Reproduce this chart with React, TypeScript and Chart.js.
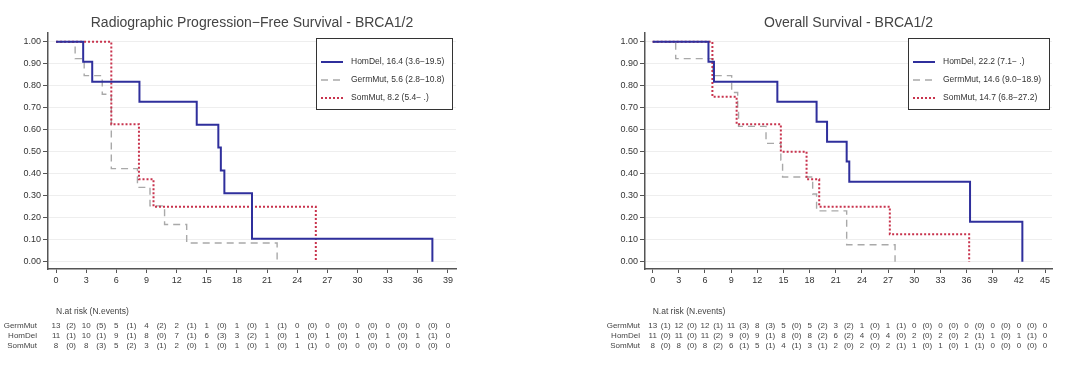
import React, { useEffect, useRef } from "react";
import { Chart, registerables } from "chart.js";

Chart.register(...registerables);

const FONT = '"Liberation Sans", Arial, Helvetica, sans-serif';

// ---------- Data: Radiographic PFS ----------
const pfsTitle = "Radiographic Progression\u2212Free Survival - BRCA1/2";
const pfsXTicks = [0, 3, 6, 9, 12, 15, 18, 21, 24, 27, 30, 33, 36, 39];
const pfsHomDelTimes = [0, 2.7, 3.6, 8.3, 14.0, 16.15, 16.4, 16.75, 19.5, 37.45];
const pfsHomDelSurv = [1, 0.909, 0.818, 0.727, 0.623, 0.519, 0.415, 0.311, 0.104, 0];
const pfsGermMutTimes = [0, 1.9, 2.8, 4.6, 5.5, 8.1, 9.35, 10.8, 13.0, 22.0];
const pfsGermMutSurv = [1, 0.923, 0.846, 0.761, 0.423, 0.338, 0.254, 0.169, 0.085, 0];
const pfsSomMutTimes = [0, 5.5, 8.25, 9.7, 25.85];
const pfsSomMutSurv = [1, 0.625, 0.375, 0.25, 0];
const pfsLegend = ["HomDel, 16.4 (3.6\u221219.5)", "GermMut, 5.6 (2.8\u221210.8)", "SomMut, 8.2 (5.4\u2212 .)"];
const pfsRiskGerm = [13, 10, 5, 4, 2, 1, 1, 1, 0, 0, 0, 0, 0, 0];
const pfsEventsGerm = [2, 5, 1, 2, 1, 0, 0, 1, 0, 0, 0, 0, 0];
const pfsRiskHom = [11, 10, 9, 8, 7, 6, 3, 1, 1, 1, 1, 1, 1, 0];
const pfsEventsHom = [1, 1, 1, 0, 1, 3, 2, 0, 0, 0, 0, 0, 1];
const pfsRiskSom = [8, 8, 5, 3, 2, 1, 1, 1, 1, 0, 0, 0, 0, 0];
const pfsEventsSom = [0, 3, 2, 1, 0, 0, 0, 0, 1, 0, 0, 0, 0];

// ---------- Data: Overall Survival ----------
const osTitle = "Overall Survival - BRCA1/2";
const osXTicks = [0, 3, 6, 9, 12, 15, 18, 21, 24, 27, 30, 33, 36, 39, 42, 45];
const osHomDelTimes = [0, 6.4, 7.03, 14.3, 18.8, 20.0, 22.25, 22.55, 36.4, 42.4];
const osHomDelSurv = [1, 0.909, 0.818, 0.727, 0.636, 0.545, 0.455, 0.364, 0.182, 0];
const osGermMutTimes = [0, 2.64, 6.9, 9.06, 9.75, 9.85, 13.0, 14.7, 14.9, 18.35, 18.8, 22.25, 27.8];
const osGermMutSurv = [1, 0.923, 0.846, 0.769, 0.692, 0.615, 0.538, 0.462, 0.385, 0.308, 0.231, 0.077, 0];
const osSomMutTimes = [0, 6.85, 9.63, 14.7, 17.65, 19.1, 27.2, 36.3];
const osSomMutSurv = [1, 0.75, 0.625, 0.5, 0.375, 0.25, 0.125, 0];
const osLegend = ["HomDel, 22.2 (7.1\u2212 .)", "GermMut, 14.6 (9.0\u221218.9)", "SomMut, 14.7 (6.8\u221227.2)"];
const osRiskGerm = [13, 12, 12, 11, 8, 5, 5, 3, 1, 1, 0, 0, 0, 0, 0, 0];
const osEventsGerm = [1, 0, 1, 3, 3, 0, 2, 2, 0, 1, 0, 0, 0, 0, 0];
const osRiskHom = [11, 11, 11, 9, 9, 8, 8, 6, 4, 4, 2, 2, 2, 1, 1, 0];
const osEventsHom = [0, 0, 2, 0, 1, 0, 2, 2, 0, 0, 0, 0, 1, 0, 1];
const osRiskSom = [8, 8, 8, 6, 5, 4, 3, 2, 2, 2, 1, 1, 1, 0, 0, 0];
const osEventsSom = [0, 0, 2, 1, 1, 1, 1, 0, 0, 1, 0, 0, 1, 0, 0];

const yTicks = [0, 0.1, 0.2, 0.3, 0.4, 0.5, 0.6, 0.7, 0.8, 0.9, 1.0];
const riskLabels = ["GermMut", "HomDel", "SomMut"];
const riskHeader = "N.at risk (N.events)";

// ---------- Styles ----------
const BLUE = "#2f2f9c";
const GRAY = "#a9a9a9";
const RED = "#c8334d";
const styleHom = { color: BLUE, width: 2, dash: [] as number[] };
const styleGerm = { color: GRAY, width: 1.4, dash: [7, 5] };
const styleSom = { color: RED, width: 2, dash: [2, 2] };

function series(times: number[], surv: number[]) {
  return times.map((t, i) => ({ x: t, y: surv[i] }));
}

type Cfg = {
  title: string;
  xTicks: number[];
  xMin: number;
  xMax: number;
  padRight: number;
  yWidth: number;
  legendTexts: string[];
  legendBox: { x: number; w: number };
  labelRight: number;
  risk: number[][];
  events: number[][];
  hom: { x: number; y: number }[];
  germ: { x: number; y: number }[];
  som: { x: number; y: number }[];
};

function overlay(cfg: Cfg) {
  return {
    id: "overlay",
    afterDraw(chart: any) {
      const ctx = chart.ctx as CanvasRenderingContext2D;
      const area = chart.chartArea;
      const xs = chart.scales.x;
      ctx.save();
      // Title
      ctx.font = `14px ${FONT}`;
      ctx.fillStyle = "#444";
      ctx.textAlign = "center";
      ctx.textBaseline = "middle";
      ctx.fillText(cfg.title, (area.left + area.right) / 2, 23);

      // Legend
      const bx = cfg.legendBox.x;
      const by = 38;
      const bw = cfg.legendBox.w;
      const bh = 71;
      ctx.fillStyle = "#fff";
      ctx.fillRect(bx, by, bw, bh);
      ctx.strokeStyle = "#333";
      ctx.lineWidth = 1;
      ctx.setLineDash([]);
      ctx.strokeRect(bx + 0.5, by + 0.5, bw, bh);
      const styles = [styleHom, styleGerm, styleSom];
      ctx.font = `8.5px ${FONT}`;
      ctx.textAlign = "left";
      ctx.textBaseline = "middle";
      cfg.legendTexts.forEach((txt, i) => {
        const yy = 62 + i * 18;
        const st = styles[i];
        ctx.beginPath();
        ctx.strokeStyle = st.color;
        ctx.lineWidth = st.width;
        ctx.setLineDash(st.dash);
        ctx.moveTo(bx + 5, yy);
        ctx.lineTo(bx + 27, yy);
        ctx.stroke();
        ctx.setLineDash([]);
        ctx.fillStyle = "#333";
        ctx.fillText(txt, bx + 35, yy);
      });

      // Risk table
      ctx.fillStyle = "#444";
      ctx.font = `8.5px ${FONT}`;
      ctx.textAlign = "left";
      ctx.fillText(riskHeader, xs.getPixelForValue(cfg.xTicks[0]), 312);
      ctx.font = `8px ${FONT}`;
      riskLabels.forEach((lab, r) => {
        const yy = 326 + r * 10;
        ctx.fillStyle = "#444";
        ctx.textAlign = "right";
        ctx.fillText(lab, cfg.labelRight, yy);
        ctx.textAlign = "center";
        cfg.risk[r].forEach((n, j) => {
          ctx.fillText(String(n), xs.getPixelForValue(cfg.xTicks[j]), yy);
        });
        cfg.events[r].forEach((e, j) => {
          const mid = (cfg.xTicks[j] + cfg.xTicks[j + 1]) / 2;
          ctx.fillText(`(${e})`, xs.getPixelForValue(mid), yy);
        });
      });
      ctx.restore();
    },
  };
}

function buildConfig(cfg: Cfg): any {
  const ds = (data: any, st: any) => ({
    data,
    borderColor: st.color,
    borderWidth: st.width,
    borderDash: st.dash,
    stepped: "before",
    pointRadius: 0,
    fill: false,
    tension: 0,
  });
  return {
    type: "line",
    data: {
      datasets: [ds(cfg.hom, styleHom), ds(cfg.som, styleSom), ds(cfg.germ, styleGerm)],
    },
    options: {
      animation: false,
      responsive: false,
      devicePixelRatio: 1,
      layout: { padding: { left: 0, top: 33, right: cfg.padRight, bottom: 0 } },
      plugins: { legend: { display: false }, tooltip: { enabled: false }, title: { display: false } },
      scales: {
        x: {
          type: "linear",
          min: cfg.xMin,
          max: cfg.xMax,
          afterBuildTicks: (s: any) => {
            s.ticks = cfg.xTicks.map((v) => ({ value: v }));
          },
          afterFit: (s: any) => {
            s.height = 99;
          },
          ticks: {
            autoSkip: false,
            maxRotation: 0,
            padding: 2,
            color: "#333",
            font: { family: FONT, size: 9 },
            callback: (v: any) => String(v),
          },
          grid: { drawOnChartArea: false, drawTicks: true, tickLength: 4, tickColor: "#555" },
          border: { display: true, color: "#555", width: 1.5 },
        },
        y: {
          type: "linear",
          min: -0.033,
          max: 1.0395,
          afterBuildTicks: (s: any) => {
            s.ticks = yTicks.map((v) => ({ value: v }));
          },
          afterFit: (s: any) => {
            s.width = cfg.yWidth;
          },
          ticks: {
            padding: 2,
            color: "#333",
            font: { family: FONT, size: 9 },
            callback: (v: any) => Number(v).toFixed(2),
          },
          grid: { color: "#eeeeee", lineWidth: 1, drawTicks: true, tickLength: 5, tickColor: "#555" },
          border: { display: true, color: "#555", width: 1.5 },
        },
      },
    },
    plugins: [overlay(cfg)],
  };
}

const leftCfg: Cfg = {
  title: pfsTitle,
  xTicks: pfsXTicks,
  xMin: -0.8,
  xMax: 39.8,
  padRight: 84,
  yWidth: 48,
  legendTexts: pfsLegend,
  legendBox: { x: 316, w: 136 },
  labelRight: 37,
  risk: [pfsRiskGerm, pfsRiskHom, pfsRiskSom],
  events: [pfsEventsGerm, pfsEventsHom, pfsEventsSom],
  hom: series(pfsHomDelTimes, pfsHomDelSurv),
  germ: series(pfsGermMutTimes, pfsGermMutSurv),
  som: series(pfsSomMutTimes, pfsSomMutSurv),
};

const rightCfg: Cfg = {
  title: osTitle,
  xTicks: osXTicks,
  xMin: -0.88,
  xMax: 45.8,
  padRight: 28,
  yWidth: 105,
  legendTexts: osLegend,
  legendBox: { x: 368, w: 141 },
  labelRight: 100,
  risk: [osRiskGerm, osRiskHom, osRiskSom],
  events: [osEventsGerm, osEventsHom, osEventsSom],
  hom: series(osHomDelTimes, osHomDelSurv),
  germ: series(osGermMutTimes, osGermMutSurv),
  som: series(osSomMutTimes, osSomMutSurv),
};

export default function App() {
  const leftRef = useRef<HTMLCanvasElement>(null);
  const rightRef = useRef<HTMLCanvasElement>(null);
  useEffect(() => {
    const c1 = new Chart(leftRef.current as HTMLCanvasElement, buildConfig(leftCfg));
    const c2 = new Chart(rightRef.current as HTMLCanvasElement, buildConfig(rightCfg));
    return () => {
      c1.destroy();
      c2.destroy();
    };
  }, []);
  return (
    <div style={{ position: "absolute", left: 0, top: 0, width: 1080, height: 368, background: "#fff" }}>
      <canvas
        ref={leftRef}
        width={540}
        height={368}
        style={{ position: "absolute", left: 0, top: 0, width: 540, height: 368 }}
      />
      <canvas
        ref={rightRef}
        width={540}
        height={368}
        style={{ position: "absolute", left: 540, top: 0, width: 540, height: 368 }}
      />
    </div>
  );
}
